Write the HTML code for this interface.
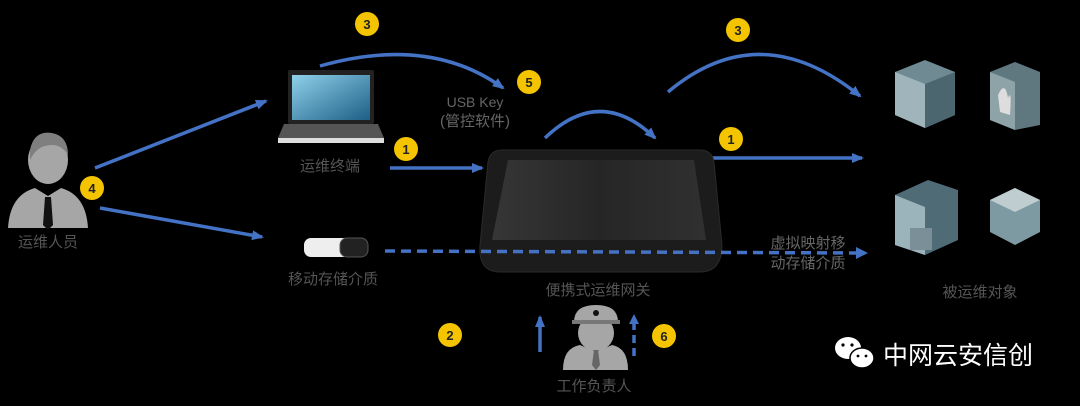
<!DOCTYPE html>
<html><head><meta charset="utf-8"><style>
html,body{margin:0;padding:0;background:#000;}
svg{display:block}
text{font-family:"Liberation Sans","Noto Sans CJK SC",sans-serif;}
</style></head><body>
<svg width="1080" height="406" viewBox="0 0 1080 406">
<defs>
<marker id="ah" markerWidth="14" markerHeight="14" refX="10" refY="6" orient="auto" markerUnits="userSpaceOnUse"><path d="M0,1 L12,6 L0,11 z" fill="#4472c4"/></marker>
<linearGradient id="scr" x1="0" y1="0" x2="1" y2="1"><stop offset="0" stop-color="#8fd0ea"/><stop offset="1" stop-color="#1d5f86"/></linearGradient>
<linearGradient id="gw" x1="0" y1="0" x2="1" y2="0"><stop offset="0" stop-color="#363636"/><stop offset="0.5" stop-color="#262626"/><stop offset="1" stop-color="#303030"/></linearGradient>
</defs>
<g stroke="#4472c4" stroke-width="3.5" fill="none" marker-end="url(#ah)">
<line x1="95" y1="168" x2="266" y2="101"/>
<line x1="100" y1="208" x2="262" y2="237"/>
<line x1="390" y1="168" x2="482" y2="168"/>
<path d="M320,66 Q430,35 503,88"/>
<path d="M545,138 Q600,85 655,138"/>
<path d="M668,92 Q760,15 860,96"/>
<line x1="707" y1="158" x2="862" y2="158"/>
<line x1="540" y1="352" x2="540" y2="317"/>
</g>
<g stroke="#4472c4" stroke-width="3.5" fill="none">
<line x1="634" y1="356" x2="634" y2="322" stroke-dasharray="8,5"/>
<path d="M629,324 L634,314 L639,324z" fill="#4472c4" stroke="none"/>
</g>
<!-- person -->
<g fill="#a6a6a6">
<ellipse cx="48" cy="160" rx="20" ry="24"/>
<path d="M8,228 Q10,195 35,188 L48,196 L61,188 Q86,195 88,228z"/>
</g>
<path d="M30,150 Q34,130 52,133 Q68,136 68,155 Q60,142 45,146 Q36,148 30,160z" fill="#7f7f7f"/>
<path d="M45,197 L51,197 L53,225 L48,230 L43,225z" fill="#111"/>
<text x="48" y="247" fill="#555" font-size="15" text-anchor="middle">运维人员</text>
<!-- laptop -->
<rect x="288" y="70" width="86" height="54" rx="2" fill="#222"/>
<rect x="292" y="75" width="78" height="45" fill="url(#scr)"/>
<path d="M284,124 L378,124 L384,138 L278,138z" fill="#555"/>
<rect x="278" y="138" width="106" height="5" fill="#ddd"/>
<text x="330" y="171" fill="#555" font-size="15" text-anchor="middle">运维终端</text>
<!-- usb -->
<rect x="304" y="238" width="58" height="19" rx="7" fill="#eee"/>
<rect x="340" y="238" width="28" height="19" rx="7" fill="#222" stroke="#555"/>
<text x="333" y="284" fill="#555" font-size="15" text-anchor="middle">移动存储介质</text>
<text x="475" y="107" fill="#666" font-size="14" text-anchor="middle">USB Key</text>
<text x="475" y="126" fill="#666" font-size="15" text-anchor="middle">(管控软件)</text>
<!-- gateway -->
<path d="M502,150 L700,150 Q712,150 714,162 L722,245 Q722,272 700,272 L500,272 Q478,272 480,245 L488,162 Q490,150 502,150z" fill="#1c1c1c" stroke="#2a2a2a"/>
<path d="M508,160 L694,160 L706,240 L492,240z" fill="url(#gw)"/>
<line x1="385" y1="251" x2="858" y2="253" stroke="#4472c4" stroke-width="3.5" stroke-dasharray="10,6"/>
<path d="M856,247 L868,253 L856,259z" fill="#4472c4"/>
<text x="598" y="295" fill="#555" font-size="15" text-anchor="middle">便携式运维网关</text>
<text x="808" y="248" fill="#666" font-size="15" text-anchor="middle">虚拟映射移</text>
<text x="808" y="268" fill="#666" font-size="15" text-anchor="middle">动存储介质</text>
<!-- servers -->
<g>
<path d="M895,72 L925,60 L955,72 L955,115 L925,128 L895,115z" fill="#6f8a93"/>
<path d="M895,72 L925,84 L925,128 L895,115z" fill="#9fb5bb"/>
<path d="M925,84 L955,72 L955,115 L925,128z" fill="#4c6670"/>
<path d="M990,72 L1015,62 L1040,72 L1040,125 L1015,130 L990,120z" fill="#5f7880"/>
<path d="M990,72 L1015,82 L1015,130 L990,120z" fill="#8ea3a8"/>
<path d="M998,95 Q1005,80 1008,98 Q1012,88 1010,115 L1000,112z" fill="#ddd"/>
<path d="M895,195 L928,180 L958,190 L958,240 L925,255 L895,245z" fill="#4f6b76"/>
<path d="M895,195 L925,207 L925,255 L895,245z" fill="#9bb3bb"/>
<rect x="910" y="228" width="22" height="22" fill="#7a8f97"/>
<path d="M990,200 L1015,188 L1040,200 L1040,232 L1015,245 L990,232z" fill="#7d9aa2"/>
<path d="M990,200 L1015,212 L1040,200 L1015,188z" fill="#bfcdd1"/>
<text x="980" y="297" fill="#555" font-size="15" text-anchor="middle">被运维对象</text>
</g>
<!-- worker -->
<g fill="#a6a6a6">
<path d="M574,322 Q574,305 596,305 Q618,305 618,322z"/>
<ellipse cx="596" cy="333" rx="18" ry="18"/>
<path d="M563,370 Q563,348 580,345 L596,352 L612,345 Q628,348 628,370z"/>
</g>
<rect x="572" y="320" width="48" height="4" fill="#777"/>
<circle cx="596" cy="313" r="3" fill="#111"/>
<path d="M594,350 L598,350 L600,365 L596,370 L592,365z" fill="#666"/>
<text x="594" y="391" fill="#555" font-size="15" text-anchor="middle">工作负责人</text>
<!-- badges -->
<g font-size="13" font-weight="bold" text-anchor="middle" fill="#222">
<circle cx="367" cy="24" r="12" fill="#f5c400"/><text x="367" y="29">3</text>
<circle cx="529" cy="82" r="12" fill="#f5c400"/><text x="529" y="87">5</text>
<circle cx="406" cy="149" r="12" fill="#f5c400"/><text x="406" y="154">1</text>
<circle cx="92" cy="188" r="12" fill="#f5c400"/><text x="92" y="193">4</text>
<circle cx="738" cy="30" r="12" fill="#f5c400"/><text x="738" y="35">3</text>
<circle cx="731" cy="139" r="12" fill="#f5c400"/><text x="731" y="144">1</text>
<circle cx="450" cy="335" r="12" fill="#f5c400"/><text x="450" y="340">2</text>
<circle cx="664" cy="336" r="12" fill="#f5c400"/><text x="664" y="341">6</text>
</g>
<!-- wechat logo -->
<ellipse cx="848" cy="348" rx="13" ry="11" fill="#fff"/>
<ellipse cx="862" cy="358" rx="12" ry="10" fill="#fff" stroke="#000" stroke-width="1.5"/>
<circle cx="843" cy="345" r="1.6" fill="#000"/><circle cx="852" cy="345" r="1.6" fill="#000"/>
<circle cx="858" cy="356" r="1.4" fill="#000"/><circle cx="866" cy="356" r="1.4" fill="#000"/>
<text x="883" y="364" fill="#fff" font-size="25">中网云安信创</text>
</svg>
</body></html>
